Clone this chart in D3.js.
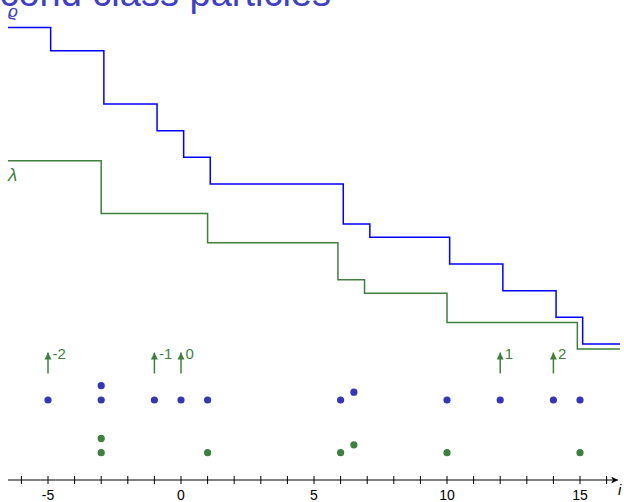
<!DOCTYPE html>
<html><head><meta charset="utf-8">
<script src="https://cdn.jsdelivr.net/npm/d3@7"></script>
<style>body{margin:0;background:#fff;}svg{display:block;font-family:"Liberation Sans",Arial,sans-serif;}</style>
</head><body>
<script>
// ---- data ----
const titleText = "Second class particles";
const xTicks = [-6,-5,-4,-3,-2,-1,0,1,2,3,4,5,6,7,8,9,10,11,12,13,14,15,16];
const xTickLabels = [-5,0,5,10,15];
const rhoBreaks = [-4.9,-2.9,-0.9,0.1,1.1,6.1,7.1,10.1,12.1,14.1,15.1];
const rhoLevels = [12.87,12,10,9,8,7,5.5,5,4,3,2,1];
const lamBreaks = [-3,1,5.9,6.9,10,14.9];
const lamLevels = [7.87,5.89,4.8,3.41,2.9,1.81,0.81];
const blueX = [-5,-3,-3,-1,0,1,6,6.5,10,12,14,15];
const blueStack = [0,1,0,0,0,0,0,0.55,0,0,0,0];
const greenX = [-3,-3,1,6,6.5,10,15];
const greenStack = [0,1,0,0,0.55,0,0];
const arrowX = [-5,-1,0,12,14];
const arrowLabels = ["-2","-1","0","1","2"];

const W=624,H=502;
const svg=d3.select("body").append("svg").attr("width",W).attr("height",H);
const x=d3.scaleLinear().domain([0,1]).range([181,207.6]);
const xMin=x.invert(8), xMax=x.invert(620);
const y=d3.scaleLinear().domain([0,13]).range([370.7,370.7-13*26.67]);
const stackY=d3.scaleLinear().domain([0,1]).range([0,-14.3]);

const blueLine="#0000ff", green="#3f7f3f", dotBlue="#3535b5", titleBlue="#4040c0";

// title
svg.append("text").attr("x",331).attr("y",6).attr("text-anchor","end")
  .attr("font-size",38).attr("fill",titleBlue).text(titleText);

// steps
function stepPts(breaks,levels){
  const p=[[xMin,levels[0]]];
  breaks.forEach((b,i)=>p.push([b,levels[i+1]]));
  p.push([xMax,levels[levels.length-1]]);
  return p;
}
const line=d3.line().x(d=>x(d[0])).y(d=>y(d[1])).curve(d3.curveStepAfter);
svg.append("path").attr("d",line(stepPts(rhoBreaks,rhoLevels))).attr("fill","none")
  .attr("stroke",blueLine).attr("stroke-width",1.5);
svg.append("path").attr("d",line(stepPts(lamBreaks,lamLevels))).attr("fill","none")
  .attr("stroke",green).attr("stroke-width",1.5);

svg.append("text").attr("x",8).attr("y",17).attr("font-size",17).attr("font-style","italic")
  .attr("fill",titleBlue).text("ϱ");
svg.append("text").attr("x",8).attr("y",181).attr("font-size",19).attr("font-style","italic")
  .attr("fill",green).text("λ");

// particles
svg.selectAll("circle.b").data(blueX).enter().append("circle").attr("class","b")
  .attr("cx",d=>x(d)).attr("cy",(d,i)=>400+stackY(blueStack[i])).attr("r",3.6).attr("fill",dotBlue);
svg.selectAll("circle.g").data(greenX).enter().append("circle").attr("class","g")
  .attr("cx",d=>x(d)).attr("cy",(d,i)=>452.7+stackY(greenStack[i])).attr("r",3.6).attr("fill",green);

// arrows
const defs=svg.append("defs");
defs.append("marker").attr("id","ah").attr("viewBox","0 0 10 10").attr("refX",10).attr("refY",5)
  .attr("markerWidth",7).attr("markerHeight",8).attr("markerUnits","userSpaceOnUse").attr("orient","auto")
  .append("path").attr("d","M0,0L10,5L0,10Z").attr("fill",green);
const ag=svg.selectAll("g.arr").data(arrowX).enter().append("g");
ag.append("line").attr("x1",d=>x(d)).attr("x2",d=>x(d)).attr("y1",373.5).attr("y2",352.5)
  .attr("stroke",green).attr("stroke-width",1.5).attr("marker-end","url(#ah)");
ag.append("text").attr("x",d=>x(d)+4.5).attr("y",358.5).attr("font-size",15).attr("fill",green)
  .text((d,i)=>arrowLabels[i]);

// axis
const axY=480;
defs.append("marker").attr("id","axh").attr("viewBox","0 0 10 10").attr("refX",10).attr("refY",5)
  .attr("markerWidth",8).attr("markerHeight",7).attr("markerUnits","userSpaceOnUse").attr("orient","auto")
  .append("path").attr("d","M0,0L10,5L0,10L3,5Z").attr("fill","#000");
svg.append("line").attr("x1",8).attr("x2",618).attr("y1",axY).attr("y2",axY)
  .attr("stroke","#000").attr("stroke-width",1).attr("marker-end","url(#axh)");
svg.selectAll("line.tk").data(xTicks).enter().append("line")
  .attr("x1",d=>x(d)).attr("x2",d=>x(d)).attr("y1",axY-4).attr("y2",axY+4)
  .attr("stroke","#000").attr("stroke-width",1);
svg.selectAll("text.tl").data(xTickLabels).enter().append("text")
  .attr("x",d=>x(d)).attr("y",500).attr("text-anchor","middle").attr("font-size",14).attr("fill","#000")
  .text(d=>d);
svg.append("text").attr("x",618).attr("y",495).attr("font-size",15).attr("font-style","italic").text("i");
</script>
</body></html>
